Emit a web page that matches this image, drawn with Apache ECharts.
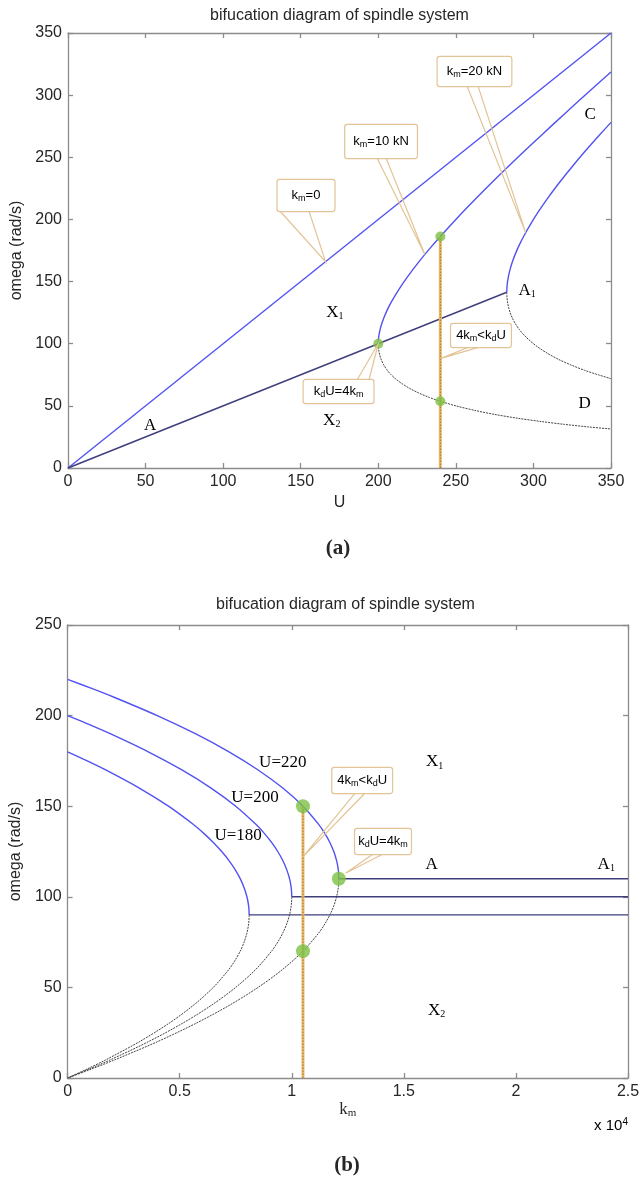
<!DOCTYPE html>
<html>
<head>
<meta charset="utf-8">
<script src="https://cdn.jsdelivr.net/npm/echarts@6/dist/echarts.min.js"></script>
<style>
  html, body { margin: 0; padding: 0; background: #ffffff; }
  #chart { width: 643px; height: 1183px; }
</style>
</head>
<body>
<div id="chart"></div>
<script>
// ---------- Panel (a): omega against U ----------
// k_m = 0 branch (straight line omega = U)
const lineKm0 = [[0, 0], [350, 350]];
// trivial branch A up to the k_m = 20 kN turning point A1
const lineA = [[0, 0], [282.8, 141.4]];
// k_m = 10 kN branches (upper solution towards C, lower one towards D)
const km10Upper = [[200, 100], [200.1, 103.2], [200.4, 106.5], [201, 110.5], [202, 115.2], [203.5, 120.5],
  [205.5, 126.4], [208, 132.6], [211, 139.1], [215, 147.0], [220, 155.8], [226, 165.6], [233, 176.3],
  [240, 186.3], [250, 200.0], [262, 215.6], [275, 231.9], [290, 250.0], [305, 267.6], [320, 284.9],
  [335, 301.9], [350, 318.6]];
const km10Lower = [[200, 100], [200.1, 96.9], [200.4, 93.9], [201, 90.5], [202, 86.8], [203.5, 83.0],
  [205.5, 79.1], [208, 75.4], [211, 71.9], [215, 68.1], [220, 64.2], [226, 60.4], [233, 56.7],
  [240, 53.7], [250, 50.0], [262, 46.4], [275, 43.1], [290, 40.0], [305, 37.4], [320, 35.1],
  [335, 33.1], [350, 31.4]];
// k_m = 20 kN branches
const km20Upper = [[282.8, 141.4], [282.95, 145.4], [283.3, 149.7], [284, 154.8], [285, 160.0], [286.5, 166.1],
  [288.5, 172.7], [291, 179.7], [294, 187.1], [298, 195.9], [303, 205.8], [309, 216.7], [316, 228.5],
  [324, 241.0], [333, 254.4], [342, 267.1], [350, 278.1]];
const km20Lower = [[282.8, 141.4], [282.95, 137.6], [283.3, 133.6], [284, 129.2], [285, 125.0], [286.5, 120.4],
  [288.5, 115.8], [291, 111.3], [294, 106.9], [298, 102.1], [303, 97.2], [309, 92.3], [316, 87.5],
  [324, 83.0], [333, 78.6], [342, 74.9], [350, 71.9]];
// vertical probe at U = 240 and its marked points
const probeA = [[240, 0], [240, 186.3]];
const dotsA = [[200, 100], [240, 186.3], [240, 53.7]];

// ---------- Panel (b): omega against k_m ----------
const u220Upper = [[0, 220], [1075, 215], [2100, 210], [4000, 200], [5700, 190], [7200, 180], [8500, 170],
  [9600, 160], [10500, 150], [11200, 140], [11475, 135], [11700, 130], [11875, 125], [12000, 120],
  [12064, 116], [12091, 113], [12100, 110]];
const u220Lower = [[12100, 110], [12091, 107], [12064, 104], [12000, 100], [11875, 95], [11700, 90], [11475, 85],
  [11200, 80], [10500, 70], [9600, 60], [8500, 50], [7200, 40], [5700, 30], [4000, 20], [2100, 10], [1075, 5], [0, 0]];
const u200Upper = [[0, 200], [975, 195], [1900, 190], [3600, 180], [5100, 170], [6400, 160], [7500, 150],
  [8400, 140], [8775, 135], [9100, 130], [9375, 125], [9600, 120], [9775, 115], [9900, 110], [9964, 106],
  [9991, 103], [10000, 100]];
const u200Lower = [[10000, 100], [9991, 97], [9964, 94], [9900, 90], [9775, 85], [9600, 80], [9375, 75], [9100, 70],
  [8400, 60], [7500, 50], [6400, 40], [5100, 30], [3600, 20], [1900, 10], [975, 5], [0, 0]];
const u180Upper = [[0, 180], [875, 175], [1700, 170], [3200, 160], [4500, 150], [5600, 140], [6075, 135],
  [6500, 130], [6875, 125], [7200, 120], [7475, 115], [7700, 110], [7875, 105], [8000, 100], [8064, 96],
  [8091, 93], [8100, 90]];
const u180Lower = [[8100, 90], [8091, 87], [8064, 84], [8000, 80], [7875, 75], [7700, 70], [7475, 65], [7200, 60],
  [6500, 50], [5600, 40], [4500, 30], [3200, 20], [1700, 10], [875, 5], [0, 0]];
const u220Flat = [[12100, 110], [25000, 110]];
const u200Flat = [[10000, 100], [25000, 100]];
const u180Flat = [[8100, 90], [25000, 90]];
const probeB = [[10500, 0], [10500, 150]];
const dotsB = [[10500, 150], [10500, 70], [12100, 110]];

// ---------- texts ----------
const TITLE = 'bifucation diagram of spindle system';
const Y_NAME = 'omega (rad/s)';

// ---------- styling ----------
const SANS = 'Liberation Sans, Arial, sans-serif';
const SERIF = 'Liberation Serif, Times New Roman, serif';
const BLUE = '#5252f2';
const NAVY = '#3e3e7c';
const DOTC = '#444444';
const ORANGE = '#e9b96b';
const ORANGE_DARK = '#a8742c';
const GREEN = '#7cc143';
const TAN = '#e2c496';
const AXIS = '#8c8c8c';
const INK = '#262626';

const chart = echarts.init(document.getElementById('chart'), null, { renderer: 'canvas' });

function baseAxis(extra) {
  return Object.assign({
    type: 'value',
    axisLine: { show: true, onZero: false, lineStyle: { color: AXIS, width: 1.3 } },
    axisTick: { show: true, inside: true, length: 5, lineStyle: { color: AXIS, width: 1.3 } },
    splitLine: { show: false },
    axisLabel: { color: INK, fontSize: 16, fontFamily: SANS, margin: 6 },
    nameTextStyle: { color: INK, fontSize: 16, fontFamily: SANS }
  }, extra);
}
function mirror(extra) {
  return baseAxis(Object.assign({ axisLabel: { show: false } }, extra));
}

function line(g, data, color, width, type, z, smooth) {
  return {
    type: 'line', xAxisIndex: g * 2, yAxisIndex: g * 2, data: data,
    showSymbol: false, symbol: 'none', smooth: smooth || false, clip: true, silent: true,
    lineStyle: { color: color, width: width, type: type || 'solid' }, z: z || 2
  };
}
function curve(g, data, color, width, type) {
  return line(g, data, color, width, type, 2, 0.3);
}
function dots(g, data, size) {
  return {
    type: 'scatter', xAxisIndex: g * 2, yAxisIndex: g * 2, data: data,
    symbolSize: size, itemStyle: { color: GREEN }, silent: true, z: 6
  };
}

const option = {
  animation: false,
  backgroundColor: '#ffffff',
  grid: [
    { left: 68, top: 33, width: 543, height: 435 },
    { left: 63, top: 625, width: 565, height: 453 }
  ],
  xAxis: [
    baseAxis({ gridIndex: 0, min: 0, max: 350, interval: 50, position: 'bottom',
      name: 'U', nameLocation: 'middle', nameGap: 27 }),
    mirror({ gridIndex: 0, min: 0, max: 350, interval: 50, position: 'top' }),
    baseAxis({ gridIndex: 1, min: 0, max: 25000, interval: 5000, position: 'bottom',
      axisLabel: { color: INK, fontSize: 16, fontFamily: SANS, margin: 6, formatter: v => String(v / 10000) },
      name: '{k|k}{m|m}', nameLocation: 'middle', nameGap: 16,
      nameTextStyle: { rich: {
        k: { fontFamily: SERIF, fontSize: 17, color: INK, lineHeight: 18 },
        m: { fontFamily: SERIF, fontSize: 11, color: INK, lineHeight: 9, verticalAlign: 'bottom' }
      } } }),
    mirror({ gridIndex: 1, min: 0, max: 25000, interval: 5000, position: 'top' })
  ],
  yAxis: [
    baseAxis({ gridIndex: 0, min: 0, max: 350, interval: 50, position: 'left',
      name: Y_NAME, nameLocation: 'middle', nameGap: 41, nameRotate: 90 }),
    mirror({ gridIndex: 0, min: 0, max: 350, interval: 50, position: 'right' }),
    baseAxis({ gridIndex: 1, min: 0, max: 250, interval: 50, position: 'left',
      name: Y_NAME, nameLocation: 'middle', nameGap: 37, nameRotate: 90 }),
    mirror({ gridIndex: 1, min: 0, max: 250, interval: 50, position: 'right' })
  ],
  series: [
    // panel (a)
    line(0, lineKm0, BLUE, 1.4),
    line(0, lineA, NAVY, 1.4),
    curve(0, km10Upper, BLUE, 1.4),
    curve(0, km10Lower, DOTC, 1, [2, 1]),
    curve(0, km20Upper, BLUE, 1.4),
    curve(0, km20Lower, DOTC, 1, [2, 1]),
    line(0, probeA, ORANGE, 3, 'solid', 3),
    line(0, probeA, ORANGE_DARK, 1, [1.5, 1.5], 4),
    dots(0, dotsA, 10),
    // panel (b)
    curve(1, u220Upper, BLUE, 1.4),
    curve(1, u220Lower, DOTC, 1, [2, 1]),
    curve(1, u200Upper, BLUE, 1.4),
    curve(1, u200Lower, DOTC, 1, [2, 1]),
    curve(1, u180Upper, BLUE, 1.4),
    curve(1, u180Lower, DOTC, 1, [2, 1]),
    line(1, u220Flat, NAVY, 1.4),
    line(1, u200Flat, NAVY, 1.4),
    line(1, u180Flat, NAVY, 1.4),
    line(1, probeB, ORANGE, 3, 'solid', 3),
    line(1, probeB, ORANGE_DARK, 1, [1.5, 1.5], 4),
    dots(1, dotsB, 14)
  ]
};
chart.setOption(option);

// ---------- annotations (placed in data coordinates of each panel) ----------
const boxRich = {
  n: { fontFamily: SANS, fontSize: 13, color: INK, lineHeight: 15 },
  s: { fontFamily: SANS, fontSize: 9, color: INK, lineHeight: 8, verticalAlign: 'bottom' }
};
const TXT_KM0 = '{n|k}{s|m}{n|=0}';
const TXT_KM10 = '{n|k}{s|m}{n|=10 kN}';
const TXT_KM20 = '{n|k}{s|m}{n|=20 kN}';
const TXT_EQ = '{n|k}{s|d}{n|U=4k}{s|m}';
const TXT_LT = '{n|4k}{s|m}{n|<k}{s|d}{n|U}';

// anchor = box edge midpoint (bottom or top) the pointer leaves from
const calloutsA = [
  { text: TXT_KM0, anchor: [153.4, 206.8], edge: 'bottom', base: [136.6, 155.3], tip: [166, 166], pad: [8, 14] },
  { text: TXT_KM10, anchor: [201.8, 249.4], edge: 'bottom', base: [199.2, 205.0], tip: [230, 171.8], pad: [9, 8] },
  { text: TXT_KM20, anchor: [262.0, 307.3], edge: 'bottom', base: [257.2, 264.3], tip: [295, 189.4], pad: [7, 9] },
  { text: TXT_EQ, anchor: [174.4, 70.8], edge: 'top', base: [186.3, 194.0], tip: [200, 100], pad: [4, 10] },
  { text: TXT_LT, anchor: [266.2, 97.4], edge: 'bottom', base: [258.5, 265.6], tip: [240, 88], pad: [4, 5] }
];
const calloutsB = [
  { text: TXT_LT, anchor: [13142, 157.3], edge: 'bottom', base: [12832, 13274], tip: [10500, 122], pad: [5, 5] },
  { text: TXT_EQ, anchor: [14071, 123.6], edge: 'bottom', base: [13628, 14071], tip: [12400, 113], pad: [5, 3] }
];

const serifRich = {
  b: { fontFamily: SERIF, fontSize: 17, color: INK, lineHeight: 18 },
  i: { fontFamily: SERIF, fontSize: 10, color: INK, lineHeight: 9, verticalAlign: 'bottom' }
};
const regionLabelsA = [
  { text: '{b|C}', at: [336.5, 284] },
  { text: '{b|A}{i|1}', at: [296, 143] },
  { text: '{b|X}{i|1}', at: [172, 125] },
  { text: '{b|X}{i|2}', at: [170, 38] },
  { text: '{b|A}', at: [53, 34] },
  { text: '{b|D}', at: [333, 51.5] }
];
const regionLabelsB = [
  { text: '{b|U=220}', at: [9600, 174] },
  { text: '{b|U=200}', at: [8360, 155] },
  { text: '{b|U=180}', at: [7610, 134] },
  { text: '{b|X}{i|1}', at: [16370, 174.4] },
  { text: '{b|A}', at: [16240, 118] },
  { text: '{b|A}{i|1}', at: [24030, 118] },
  { text: '{b|X}{i|2}', at: [16460, 37.5] }
];

function px(g, p) {
  return chart.convertToPixel({ xAxisIndex: g * 2, yAxisIndex: g * 2 }, p);
}

function calloutGraphics(g, list) {
  const out = [];
  list.forEach(c => {
    const a = px(g, c.anchor);
    const b1 = px(g, [c.base[0], c.anchor[1]]);
    const b2 = px(g, [c.base[1], c.anchor[1]]);
    const t = px(g, c.tip);
    out.push({
      type: 'polyline', z: 10, silent: true,
      shape: { points: [b1, t, b2] },
      style: { stroke: TAN, lineWidth: 1.2, fill: null }
    });
    out.push({
      type: 'text', z: 11, silent: true, x: a[0], y: a[1],
      style: {
        text: c.text, rich: boxRich, align: 'center', verticalAlign: c.edge,
        backgroundColor: '#ffffff', borderColor: TAN, borderWidth: 1.2, borderRadius: 2,
        padding: c.pad
      }
    });
  });
  return out;
}

function labelGraphics(g, list) {
  return list.map(l => {
    const p = px(g, l.at);
    return {
      type: 'text', z: 9, silent: true, x: p[0], y: p[1],
      style: { text: l.text, rich: serifRich, align: 'center', verticalAlign: 'middle' }
    };
  });
}

function plainText(x, y, text, style) {
  return {
    type: 'text', z: 9, silent: true, x: x, y: y,
    style: Object.assign({ text: text, align: 'center', verticalAlign: 'middle', fill: INK }, style)
  };
}

const gridA = option.grid[0];
const gridB = option.grid[1];
const graphics = [].concat(
  [
    plainText(gridA.left + gridA.width / 2, 16, TITLE, { font: '16px ' + SANS }),
    plainText(gridB.left + gridB.width / 2, 605, TITLE, { font: '16px ' + SANS }),
    plainText(338, 549, '(a)', { font: 'bold 21px ' + SERIF }),
    plainText(347, 1166, '(b)', { font: 'bold 21px ' + SERIF }),
    {
      type: 'text', z: 9, silent: true, x: gridB.left + gridB.width, y: 1126,
      style: {
        text: '{t|x 10}{e|4}', align: 'right', verticalAlign: 'middle',
        rich: {
          t: { fontFamily: SANS, fontSize: 15, color: INK, lineHeight: 18 },
          e: { fontFamily: SANS, fontSize: 10, color: INK, lineHeight: 10, verticalAlign: 'top' }
        }
      }
    }
  ],
  labelGraphics(0, regionLabelsA),
  labelGraphics(1, regionLabelsB),
  calloutGraphics(0, calloutsA),
  calloutGraphics(1, calloutsB)
);
chart.setOption({ graphic: graphics });
</script>
</body>
</html>
